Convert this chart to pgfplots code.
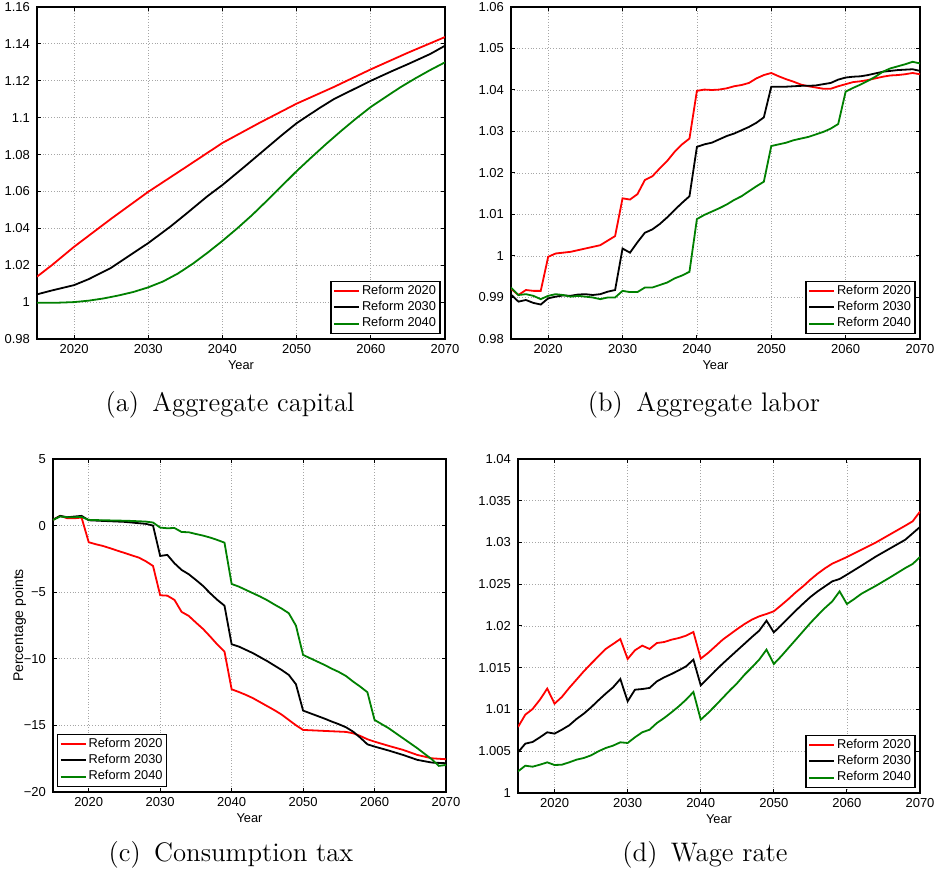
\documentclass[border=0pt]{standalone}
\usepackage{fontspec}
\setsansfont{Liberation Sans}
\usepackage{pgfplots}
\pgfplotsset{compat=1.18}
\definecolor{mred}{rgb}{1,0,0}
\definecolor{mgreen}{rgb}{0,0.5,0}
\pgfplotsset{
 mat/.style={
  scale only axis, anchor=south west,
  xmin=2015, xmax=2070, xtick={2020,2030,2040,2050,2060,2070},
  axis line style={line width=0.6pt},
  tick align=inside, major tick length=2pt, tick style={line width=0.5pt, black},
  grid=major, major grid style={densely dotted, gray!70, line width=0.4pt},
  /pgf/number format/1000 sep={},
  /pgf/number format/precision=3,
  /pgf/number format/assume math mode=true,
  tick label style={font=\sffamily\fontsize{6.5}{7}\selectfont},
  xticklabel style={yshift=0.8pt},
  label style={font=\sffamily\fontsize{6.4}{7}\selectfont},
  xlabel={Year}, xlabel style={yshift=3.5pt},
  ylabel style={font=\sffamily\fontsize{7}{8}\selectfont},
  legend cell align=left,
  legend style={font=\sffamily\fontsize{6.4}{7.5}\selectfont, draw=black, line width=0.6pt, inner xsep=1pt, inner ysep=0.8pt, row sep=0pt,
    nodes={inner sep=1pt}},
  legend image code/.code={\draw[##1, line width=1pt] (0pt,0pt) -- (12.5pt,0pt);},
  every axis plot/.append style={line width=0.9pt},
 },
 legse/.style={legend style={at={(1,0)}, anchor=south east, xshift=-2.2pt, yshift=2.5pt}},
 legsw/.style={legend style={at={(0,0)}, anchor=south west, xshift=2pt, yshift=2.5pt}},
}
\begin{document}
\begin{tikzpicture}
\useasboundingbox (0,0) rectangle (468.5pt,438.5pt);
% (a)
\begin{axis}[mat, legse, at={(18.5pt,269pt)}, width=204pt, height=166pt,
  ymin=0.98, ymax=1.16, ytick={0.98,1,1.02,1.04,1.06,1.08,1.1,1.12,1.14,1.16}]
\addplot[mred] coordinates {(2015,1.0138)(2017,1.0200)(2020,1.0300)(2025,1.0452)(2030,1.0598)(2035,1.0730)(2040,1.0863)(2045,1.0972)(2050,1.1076)(2055,1.1166)(2060,1.1262)(2065,1.1352)(2070,1.1437)};
\addplot[black] coordinates {(2015,1.0042)(2017,1.0063)(2020,1.0092)(2022,1.0125)(2025,1.0186)(2027,1.0240)(2030,1.0320)(2033,1.0410)(2035,1.0475)(2038,1.0575)(2040,1.0635)(2043,1.0735)(2045,1.0803)(2048,1.0905)(2050,1.0970)(2053,1.1050)(2055,1.1100)(2058,1.1160)(2060,1.1200)(2063,1.1255)(2065,1.1290)(2068,1.1345)(2070,1.1390)};
\addplot[mgreen] coordinates {(2015,0.9997)(2018,0.9997)(2020,1.0000)(2022,1.0008)(2024,1.0020)(2026,1.0036)(2028,1.0055)(2030,1.0080)(2032,1.0112)(2034,1.0155)(2036,1.0208)(2038,1.0268)(2040,1.0332)(2042,1.0400)(2044,1.0472)(2046,1.0550)(2048,1.0630)(2050,1.0710)(2052,1.0785)(2054,1.0858)(2056,1.0928)(2058,1.0995)(2060,1.1058)(2062,1.1112)(2064,1.1165)(2066,1.1213)(2068,1.1258)(2070,1.1300)};
\legend{Reform 2020,Reform 2030,Reform 2040}
\end{axis}
% (b)
\begin{axis}[mat, legse, at={(255.5pt,269pt)}, width=204.5pt, height=166pt,
  ymin=0.98, ymax=1.06, ytick={0.98,0.99,1,1.01,1.02,1.03,1.04,1.05,1.06}]
\addplot[mred] coordinates {(2015,0.9921)(2016,0.9906)(2017,0.9918)(2018,0.9916)(2019,0.9916)(2020,0.9998)(2021,1.0006)(2022,1.0008)(2023,1.0010)(2024,1.0014)(2025,1.0018)(2026,1.0022)(2027,1.0026)(2028,1.0037)(2029,1.0048)(2030,1.0139)(2031,1.0136)(2032,1.0149)(2033,1.0183)(2034,1.0192)(2035,1.0211)(2036,1.0229)(2037,1.0251)(2038,1.0269)(2039,1.0283)(2040,1.0398)(2041,1.0401)(2042,1.0400)(2043,1.0401)(2044,1.0404)(2045,1.0409)(2046,1.0412)(2047,1.0417)(2048,1.0428)(2049,1.0436)(2050,1.0441)(2051,1.0433)(2052,1.0426)(2053,1.0420)(2054,1.0413)(2055,1.0409)(2056,1.0406)(2057,1.0403)(2058,1.0403)(2059,1.0409)(2060,1.0414)(2061,1.0419)(2062,1.0421)(2063,1.0424)(2064,1.0428)(2065,1.0432)(2066,1.0435)(2067,1.0436)(2068,1.0438)(2069,1.0441)(2070,1.0438)};
\addplot[black] coordinates {(2015,0.9907)(2016,0.9890)(2017,0.9894)(2018,0.9887)(2019,0.9883)(2020,0.9898)(2021,0.9902)(2022,0.9905)(2023,0.9904)(2024,0.9907)(2025,0.9908)(2026,0.9906)(2027,0.9908)(2028,0.9914)(2029,0.9918)(2030,1.0018)(2031,1.0008)(2032,1.0033)(2033,1.0056)(2034,1.0064)(2035,1.0077)(2036,1.0093)(2037,1.0111)(2038,1.0128)(2039,1.0144)(2040,1.0263)(2041,1.0269)(2042,1.0273)(2043,1.0281)(2044,1.0289)(2045,1.0295)(2046,1.0303)(2047,1.0311)(2048,1.0321)(2049,1.0334)(2050,1.0408)(2051,1.0408)(2052,1.0408)(2053,1.0409)(2054,1.0410)(2055,1.0410)(2056,1.0411)(2057,1.0414)(2058,1.0417)(2059,1.0425)(2060,1.0430)(2061,1.0432)(2062,1.0433)(2063,1.0436)(2064,1.0440)(2065,1.0444)(2066,1.0446)(2067,1.0448)(2068,1.0449)(2069,1.0450)(2070,1.0446)};
\addplot[mgreen] coordinates {(2015,0.9924)(2016,0.9906)(2017,0.9908)(2018,0.9904)(2019,0.9896)(2020,0.9904)(2021,0.9908)(2022,0.9906)(2023,0.9902)(2024,0.9904)(2025,0.9902)(2026,0.9900)(2027,0.9896)(2028,0.9900)(2029,0.9900)(2030,0.9916)(2031,0.9913)(2032,0.9913)(2033,0.9924)(2034,0.9924)(2035,0.9930)(2036,0.9936)(2037,0.9946)(2038,0.9953)(2039,0.9962)(2040,1.0089)(2041,1.0099)(2042,1.0107)(2043,1.0115)(2044,1.0124)(2045,1.0135)(2046,1.0144)(2047,1.0156)(2048,1.0168)(2049,1.0179)(2050,1.0265)(2051,1.0269)(2052,1.0273)(2053,1.0279)(2054,1.0283)(2055,1.0287)(2056,1.0293)(2057,1.0299)(2058,1.0307)(2059,1.0318)(2060,1.0396)(2061,1.0405)(2062,1.0413)(2063,1.0422)(2064,1.0432)(2065,1.0444)(2066,1.0452)(2067,1.0457)(2068,1.0462)(2069,1.0468)(2070,1.0464)};
\legend{Reform 2020,Reform 2030,Reform 2040}
\end{axis}
% (c)
\begin{axis}[mat, legsw, at={(26.5pt,42.5pt)}, width=196.5pt, height=166.5pt,
  ymin=-20, ymax=5, ytick={-20,-15,-10,-5,0,5}, yticklabels={−20,−15,−10,−5,0,5},
  ylabel={Percentage points}, ylabel shift=-8pt]
\addplot[mred] coordinates {(2015,0.43)(2016,0.73)(2017,0.55)(2018,0.55)(2019,0.60)(2020,-1.25)(2021,-1.40)(2022,-1.53)(2023,-1.70)(2024,-1.88)(2025,-2.05)(2026,-2.23)(2027,-2.40)(2028,-2.68)(2029,-3.03)(2030,-5.23)(2031,-5.26)(2032,-5.58)(2033,-6.48)(2034,-6.78)(2035,-7.28)(2036,-7.76)(2037,-8.33)(2038,-8.93)(2039,-9.46)(2040,-12.29)(2041,-12.49)(2042,-12.71)(2043,-12.96)(2044,-13.26)(2045,-13.56)(2046,-13.86)(2047,-14.19)(2048,-14.59)(2049,-14.99)(2050,-15.34)(2052,-15.39)(2056,-15.49)(2057,-15.59)(2058,-15.79)(2059,-16.04)(2060,-16.22)(2062,-16.54)(2064,-16.84)(2066,-17.22)(2068,-17.47)(2070,-17.54)};
\addplot[black] coordinates {(2015,0.43)(2016,0.73)(2017,0.63)(2018,0.68)(2019,0.73)(2020,0.40)(2022,0.35)(2025,0.28)(2027,0.18)(2028,0.13)(2029,0.00)(2030,-2.28)(2031,-2.20)(2032,-2.83)(2033,-3.33)(2034,-3.65)(2035,-4.08)(2036,-4.53)(2037,-5.08)(2038,-5.58)(2039,-6.01)(2040,-8.91)(2041,-9.08)(2042,-9.33)(2043,-9.58)(2044,-9.88)(2045,-10.18)(2046,-10.51)(2047,-10.84)(2048,-11.21)(2049,-11.91)(2050,-13.89)(2051,-14.09)(2052,-14.29)(2053,-14.49)(2054,-14.71)(2055,-14.91)(2056,-15.14)(2057,-15.47)(2058,-15.92)(2059,-16.42)(2060,-16.59)(2062,-16.89)(2064,-17.22)(2066,-17.59)(2068,-17.79)(2070,-17.84)};
\addplot[mgreen] coordinates {(2015,0.43)(2016,0.68)(2017,0.63)(2018,0.63)(2019,0.65)(2020,0.43)(2022,0.40)(2024,0.38)(2026,0.35)(2028,0.30)(2029,0.23)(2030,-0.15)(2031,-0.20)(2032,-0.18)(2033,-0.48)(2034,-0.50)(2035,-0.63)(2036,-0.75)(2037,-0.90)(2038,-1.08)(2039,-1.28)(2040,-4.38)(2041,-4.58)(2042,-4.83)(2043,-5.08)(2044,-5.33)(2045,-5.61)(2046,-5.93)(2047,-6.23)(2048,-6.58)(2049,-7.51)(2050,-9.71)(2051,-9.96)(2052,-10.21)(2053,-10.46)(2054,-10.74)(2055,-10.99)(2056,-11.29)(2057,-11.71)(2058,-12.09)(2059,-12.51)(2060,-14.59)(2062,-15.22)(2064,-15.97)(2066,-16.72)(2068,-17.54)(2069,-18.04)(2070,-17.97)};
\legend{Reform 2020,Reform 2030,Reform 2040}
\end{axis}
% (d)
\begin{axis}[mat, legse, at={(259pt,42pt)}, width=201pt, height=167pt,
  ymin=1, ymax=1.04, ytick={1,1.005,1.01,1.015,1.02,1.025,1.03,1.035,1.04}]
\addplot[mred] coordinates {(2015,1.00790)(2016,1.00938)(2017,1.01006)(2018,1.01118)(2019,1.01250)(2020,1.01070)(2021,1.01150)(2022,1.01258)(2023,1.01357)(2024,1.01457)(2025,1.01549)(2026,1.01637)(2027,1.01725)(2028,1.01784)(2029,1.01844)(2030,1.01605)(2031,1.01709)(2032,1.01765)(2033,1.01725)(2034,1.01796)(2035,1.01808)(2036,1.01836)(2037,1.01856)(2038,1.01884)(2039,1.01928)(2040,1.01609)(2041,1.01677)(2042,1.01756)(2043,1.01836)(2044,1.01900)(2045,1.01964)(2046,1.02024)(2047,1.02076)(2048,1.02116)(2049,1.02144)(2050,1.02176)(2051,1.02248)(2052,1.02323)(2053,1.02403)(2054,1.02475)(2055,1.02555)(2056,1.02627)(2057,1.02691)(2058,1.02747)(2059,1.02786)(2060,1.02826)(2062,1.02914)(2064,1.03002)(2066,1.03102)(2068,1.03202)(2069,1.03254)(2070,1.03370)};
\addplot[black] coordinates {(2015,1.00487)(2016,1.00591)(2017,1.00611)(2018,1.00667)(2019,1.00727)(2020,1.00711)(2021,1.00758)(2022,1.00810)(2023,1.00886)(2024,1.00950)(2025,1.01026)(2026,1.01110)(2027,1.01190)(2028,1.01265)(2029,1.01365)(2030,1.01098)(2031,1.01237)(2032,1.01245)(2033,1.01258)(2034,1.01337)(2035,1.01385)(2036,1.01425)(2037,1.01469)(2038,1.01517)(2039,1.01597)(2040,1.01289)(2041,1.01377)(2042,1.01465)(2043,1.01549)(2044,1.01629)(2045,1.01709)(2046,1.01788)(2047,1.01868)(2048,1.01944)(2049,1.02064)(2050,1.01924)(2051,1.02008)(2052,1.02096)(2053,1.02184)(2054,1.02267)(2055,1.02347)(2056,1.02415)(2057,1.02475)(2058,1.02535)(2059,1.02563)(2060,1.02615)(2062,1.02723)(2064,1.02834)(2066,1.02934)(2068,1.03034)(2070,1.03186)};
\addplot[mgreen] coordinates {(2015,1.00259)(2016,1.00327)(2017,1.00315)(2018,1.00339)(2019,1.00367)(2020,1.00335)(2021,1.00339)(2022,1.00367)(2023,1.00399)(2024,1.00419)(2025,1.00451)(2026,1.00499)(2027,1.00539)(2028,1.00567)(2029,1.00607)(2030,1.00599)(2031,1.00667)(2032,1.00727)(2033,1.00758)(2034,1.00838)(2035,1.00898)(2036,1.00966)(2037,1.01038)(2038,1.01118)(2039,1.01210)(2040,1.00878)(2041,1.00958)(2042,1.01046)(2043,1.01138)(2044,1.01230)(2045,1.01317)(2046,1.01417)(2047,1.01505)(2048,1.01597)(2049,1.01717)(2050,1.01545)(2051,1.01637)(2052,1.01737)(2053,1.01836)(2054,1.01936)(2055,1.02036)(2056,1.02128)(2057,1.02216)(2058,1.02295)(2059,1.02415)(2060,1.02263)(2061,1.02323)(2062,1.02387)(2064,1.02483)(2066,1.02587)(2068,1.02695)(2069,1.02743)(2070,1.02826)};
\legend{Reform 2020,Reform 2030,Reform 2040}
\end{axis}
\node[anchor=base, font=\fontsize{13.4}{15}\selectfont] at (115pt,232.5pt) {(a)\enspace Aggregate capital};
\node[anchor=base, font=\fontsize{13.4}{15}\selectfont] at (352pt,232.5pt) {(b)\enspace Aggregate labor};
\node[anchor=base, font=\fontsize{13.4}{15}\selectfont] at (115.5pt,7.5pt) {(c)\enspace Consumption tax};
\node[anchor=base, font=\fontsize{13.4}{15}\selectfont] at (352.5pt,7.5pt) {(d)\enspace Wage rate};
\end{tikzpicture}
\end{document}
